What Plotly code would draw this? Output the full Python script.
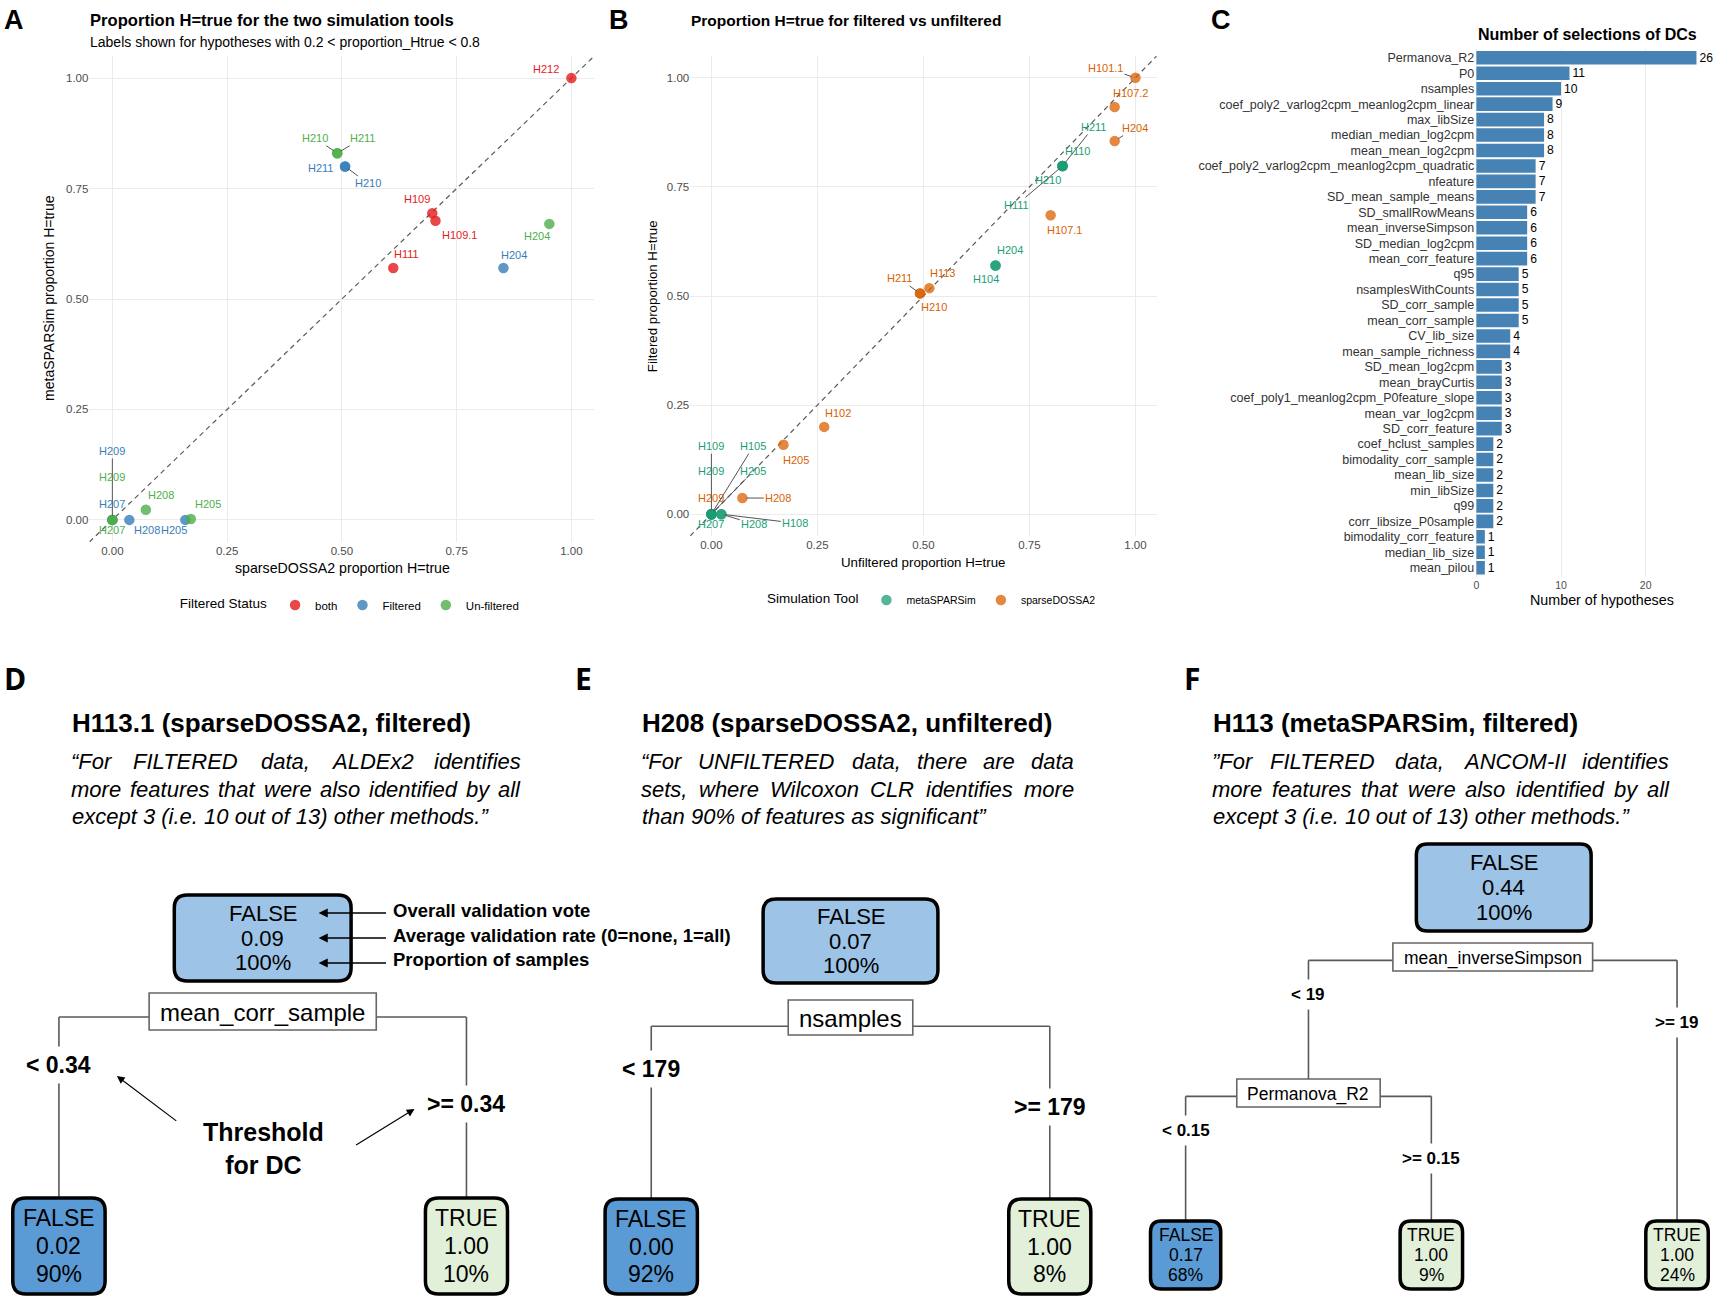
import plotly.graph_objects as go

W, H = 1713, 1297
SANS = "Liberation Sans, Arial, Helvetica, sans-serif"
LETTER = "Open Sans, Lato, sans-serif"

# ---------------- Panel A data ----------------
a_labels = ["H212", "H210", "H211", "H211", "H210", "H109", "H109.1", "H111", "H204", "H204",
            "H209", "H209", "H207", "H207", "H208", "H208", "H205", "H205"]
a_status = ["both", "Un-filtered", "Un-filtered", "Filtered", "Filtered", "both", "both", "both",
            "Filtered", "Un-filtered", "Filtered", "Un-filtered", "Filtered", "Un-filtered",
            "Un-filtered", "Filtered", "Filtered", "Un-filtered"]
a_sparse = [1.00, 0.49, 0.49, 0.507, 0.507, 0.697, 0.704, 0.612, 0.852, 0.952,
            0.0, 0.0, 0.0, 0.0, 0.073, 0.037, 0.159, 0.171]
a_meta = [1.00, 0.83, 0.83, 0.80, 0.80, 0.694, 0.677, 0.570, 0.570, 0.670,
          0.0, 0.0, 0.0, 0.0, 0.023, 0.0, 0.0, 0.002]
status_order = ["both", "Filtered", "Un-filtered"]

# ---------------- Panel B data ----------------
b_labels = ["H101.1", "H107.2", "H204", "H211", "H110", "H210", "H111", "H107.1", "H204", "H104",
            "H211", "H210", "H113", "H102", "H205", "H208", "H209", "H109", "H209", "H207",
            "H105", "H205", "H208", "H108"]
b_tool = ["sparseDOSSA2", "sparseDOSSA2", "sparseDOSSA2", "metaSPARSim", "metaSPARSim", "metaSPARSim",
          "metaSPARSim", "sparseDOSSA2", "metaSPARSim", "metaSPARSim", "sparseDOSSA2", "sparseDOSSA2",
          "sparseDOSSA2", "sparseDOSSA2", "sparseDOSSA2", "sparseDOSSA2", "sparseDOSSA2", "metaSPARSim",
          "metaSPARSim", "metaSPARSim", "metaSPARSim", "metaSPARSim", "metaSPARSim", "metaSPARSim"]
b_unfiltered = [1.00, 0.951, 0.951, 0.828, 0.828, 0.828, 0.828, 0.80, 0.67, 0.67,
                0.492, 0.492, 0.514, 0.266, 0.170, 0.073, 0.0, 0.0, 0.0, 0.0,
                0.0, 0.0, 0.0235, 0.0235]
b_filtered = [1.00, 0.933, 0.855, 0.798, 0.798, 0.798, 0.798, 0.685, 0.57, 0.57,
              0.506, 0.506, 0.518, 0.20, 0.159, 0.037, 0.0, 0.0, 0.0, 0.0,
              0.0, 0.0, 0.0, 0.0]
tool_order = ["metaSPARSim", "sparseDOSSA2"]

# ---------------- Panel C data ----------------
c_features = ["Permanova_R2", "P0", "nsamples", "coef_poly2_varlog2cpm_meanlog2cpm_linear", "max_libSize",
              "median_median_log2cpm", "mean_mean_log2cpm", "coef_poly2_varlog2cpm_meanlog2cpm_quadratic",
              "nfeature", "SD_mean_sample_means", "SD_smallRowMeans", "mean_inverseSimpson",
              "SD_median_log2cpm", "mean_corr_feature", "q95", "nsamplesWithCounts", "SD_corr_sample",
              "mean_corr_sample", "CV_lib_size", "mean_sample_richness", "SD_mean_log2cpm",
              "mean_brayCurtis", "coef_poly1_meanlog2cpm_P0feature_slope", "mean_var_log2cpm",
              "SD_corr_feature", "coef_hclust_samples", "bimodality_corr_sample", "mean_lib_size",
              "min_libSize", "q99", "corr_libsize_P0sample", "bimodality_corr_feature",
              "median_lib_size", "mean_pilou"]
c_counts = [26, 11, 10, 9, 8, 8, 8, 7, 7, 7, 6, 6, 6, 6, 5, 5, 5, 5, 4, 4, 3, 3, 3, 3, 3,
            2, 2, 2, 2, 2, 2, 1, 1, 1]
c_ticks = [0, 10, 20]

# ---------------- Decision trees (D, E, F) ----------------
tree_D = dict(vote="FALSE", rate=0.09, pct=100, var="mean_corr_sample", thr="0.34",
              kids=[dict(vote="FALSE", rate=0.02, pct=90), dict(vote="TRUE", rate=1.00, pct=10)])
tree_E = dict(vote="FALSE", rate=0.07, pct=100, var="nsamples", thr="179",
              kids=[dict(vote="FALSE", rate=0.00, pct=92), dict(vote="TRUE", rate=1.00, pct=8)])
tree_F = dict(vote="FALSE", rate=0.44, pct=100, var="mean_inverseSimpson", thr="19",
              kids=[dict(var="Permanova_R2", thr="0.15",
                         kids=[dict(vote="FALSE", rate=0.17, pct=68), dict(vote="TRUE", rate=1.00, pct=9)]),
                    dict(vote="TRUE", rate=1.00, pct=24)])
titles = {"D": "H113.1 (sparseDOSSA2, filtered)",
          "E": "H208 (sparseDOSSA2, unfiltered)",
          "F": "H113 (metaSPARSim, filtered)"}
quotes = {"D": ["“For FILTERED data, ALDEx2 identifies",
                "more features that were also identified by all",
                "except 3 (i.e. 10 out of 13) other methods.”"],
          "E": ["“For UNFILTERED data, there are data",
                "sets, where Wilcoxon CLR identifies more",
                "than 90% of features as significant”"],
          "F": ["”For FILTERED data, ANCOM-II identifies",
                "more features that were also identified by all",
                "except 3 (i.e. 10 out of 13) other methods.”"]}
legend_notes = ["Overall validation vote", "Average validation rate (0=none, 1=all)", "Proportion of samples"]

# ---------------- styles ----------------
status_colors = {"both": "#E41A1C", "Filtered": "#377EB8", "Un-filtered": "#4DAF4A"}
tool_colors = {"metaSPARSim": "#1B9E77", "sparseDOSSA2": "#D95F02"}
GRID = "#EBEBEB"
TICKC = "#4D4D4D"
ROOT_FILL = "#9DC3E6"
LEAF_FILL = {"FALSE": "#5B9BD5", "TRUE": "#E2F0D9"}

# Arial / Liberation Sans advance widths (1/1000 em), used for text box sizing
AW = {' ': 278, '%': 889, '(': 333, ')': 333, ',': 278, '-': 333, '.': 278, '_': 556, '“': 333, '”': 333,
      '<': 584, '=': 584, '>': 584}
for ch in "0123456789":
    AW[ch] = 556
AW.update(dict(zip("ABCDEFGHIJKLMNOPQRSTUVWXYZ",
                   [667, 667, 722, 722, 667, 611, 778, 722, 278, 500, 667, 556, 833, 722, 778, 667, 778,
                    722, 667, 611, 722, 667, 944, 667, 667, 611])))
AW.update(dict(zip("abcdefghijklmnopqrstuvwxyz",
                   [556, 556, 500, 556, 556, 278, 556, 556, 222, 222, 500, 222, 833, 556, 556, 556, 556,
                    333, 500, 278, 556, 500, 722, 500, 500, 500])))


def tw(text, size):
    return sum(AW.get(c, 556) for c in text) / 1000.0 * size


# label offsets (pixels) for repelled labels: (dx, dy, draw segment)
a_off = {("H212", "both"): (-25, -9, False), ("H210", "Un-filtered"): (-22, -15, True),
         ("H211", "Un-filtered"): (25, -15, True), ("H211", "Filtered"): (-25, 2, False),
         ("H210", "Filtered"): (23, 17, True), ("H109", "both"): (-15, -14, False),
         ("H109.1", "both"): (24, 14, False), ("H111", "both"): (13, -14, False),
         ("H204", "Filtered"): (11, -13, False), ("H204", "Un-filtered"): (-12, 12, False),
         ("H209", "Filtered"): (0, -69, True), ("H209", "Un-filtered"): (0, -43, False),
         ("H207", "Filtered"): (0, -16, False), ("H207", "Un-filtered"): (0, 10, False),
         ("H208", "Un-filtered"): (15, -15, False), ("H208", "Filtered"): (18, 10, False),
         ("H205", "Filtered"): (-11, 10, False), ("H205", "Un-filtered"): (17, -15, False)}
b_off = {("H101.1", "sparseDOSSA2"): (-30, -10, True), ("H107.2", "sparseDOSSA2"): (16, -14, False),
         ("H204", "sparseDOSSA2"): (20, -13, True), ("H211", "metaSPARSim"): (31, -39, True),
         ("H110", "metaSPARSim"): (15, -15, False), ("H210", "metaSPARSim"): (-15, 14, False),
         ("H111", "metaSPARSim"): (-46, 39, True), ("H107.1", "sparseDOSSA2"): (14, 15, False),
         ("H204", "metaSPARSim"): (14, -15, False), ("H104", "metaSPARSim"): (-10, 14, False),
         ("H211", "sparseDOSSA2"): (-21, -15, True), ("H210", "sparseDOSSA2"): (14, 14, False),
         ("H113", "sparseDOSSA2"): (13, -15, False), ("H102", "sparseDOSSA2"): (14, -14, False),
         ("H205", "sparseDOSSA2"): (13, 15, False), ("H208", "sparseDOSSA2"): (36, 0, True),
         ("H209", "sparseDOSSA2"): (0, -16, False), ("H109", "metaSPARSim"): (0, -68, True),
         ("H209", "metaSPARSim"): (0, -43, False), ("H207", "metaSPARSim"): (0, 10, False),
         ("H105", "metaSPARSim"): (42, -68, True), ("H205", "metaSPARSim"): (42, -43, True),
         ("H208", "metaSPARSim"): (33, 10, True), ("H108", "metaSPARSim"): (74, 9, True)}

tree_styles = {
    "D": dict(x0=57, dx=408, root_dx=0, root_top=895, root_w=177, root_h=86, root_font=22, split_h=37,
              split_font=24, split_gap=12, line_frac=0.65, offL=48, offR=87, thr_font=23, level_top={},
              leaf_top=1198, leaf_h=96, leaf_font=23, radius=13, title_x=68, qx0=68, qx1=518),
    "E": dict(x0=650, dx=399, root_dx=0, root_top=899, root_w=175, root_h=84, root_font=22, split_h=35,
              split_font=24, split_gap=17, line_frac=0.75, offL=43, offR=81, thr_font=23, level_top={},
              leaf_top=1199, leaf_h=95, leaf_font=23, radius=13, title_x=639, qx0=639, qx1=1072),
    "F": dict(x0=1185, dx=246, root_dx=11, root_top=844, root_w=175, root_h=87, root_font=22, split_h=28,
              split_font=17.5, split_gap=12, line_frac=0.62, offL=34, offR=62, thr_font=17,
              level_top={1: 1079}, leaf_top=1221, leaf_h=68, leaf_font=17.5, radius=11, title_x=1210,
              qx0=1210, qx1=1668),
}

shapes = []
annots = []


def canvas_text(x, y, text, size, family=SANS, color="black", xanchor="center", **kw):
    annots.append(dict(x=x, y=y, xref="x4", yref="y4", text=text, showarrow=False, xanchor=xanchor,
                       yanchor="middle", font=dict(family=family, size=size, color=color), **kw))


def rbox(x0, y0, x1, y1, r, fill, lw=3.5, color="black"):
    p = (f"M {x0+r},{y0} L {x1-r},{y0} Q {x1},{y0} {x1},{y0+r} L {x1},{y1-r} Q {x1},{y1} {x1-r},{y1} "
         f"L {x0+r},{y1} Q {x0},{y1} {x0},{y1-r} L {x0},{y0+r} Q {x0},{y0} {x0+r},{y0} Z")
    shapes.append(dict(type="path", path=p, xref="x4", yref="y4", fillcolor=fill,
                       line=dict(color=color, width=lw), layer="above"))


def seg(x0, y0, x1, y1, color="#595959", width=1.6):
    shapes.append(dict(type="line", x0=x0, y0=y0, x1=x1, y1=y1, xref="x4", yref="y4",
                       line=dict(color=color, width=width), layer="above"))


def assign(node, counter, depth):
    node["depth"] = depth
    if "kids" in node:
        for k in node["kids"]:
            assign(k, counter, depth + 1)
        node["ix"] = (node["kids"][0]["ix"] + node["kids"][-1]["ix"]) / 2
    else:
        node["ix"] = counter[0]
        counter[0] += 1


def node_box(cx, top, w, h, node, font, fill, r):
    rbox(cx - w / 2, top, cx + w / 2, top + h, r, fill)
    ys = []
    for frac, t in zip((0.21, 0.5, 0.79), (node["vote"], f"{node['rate']:.2f}", f"{node['pct']}%")):
        canvas_text(cx, top + frac * h, t, font)
        ys.append(top + frac * h)
    return ys


def draw_tree(tree, st):
    assign(tree, [0], 0)

    def X(n):
        return st["x0"] + n["ix"] * st["dx"]

    def draw_split(node, top):
        cx = X(node)
        sw = tw(node["var"], st["split_font"]) + 22
        sh = st["split_h"]
        line_y = top + st["line_frac"] * sh
        for k, op, off in zip(node["kids"], ("&lt; ", "&gt;= "), (st["offL"], st["offR"])):
            kx = X(k)
            leaf = "kids" not in k
            ktop = st["leaf_top"] if leaf else st["level_top"][k["depth"]]
            seg(cx, line_y, kx, line_y)
            seg(kx, line_y, kx, ktop)
            canvas_text(kx, line_y + off, f"<b>{op}{node['thr']}</b>", st["thr_font"],
                        bgcolor="white", borderpad=5)
            if leaf:
                lw_ = max(tw(t, st["leaf_font"]) for t in (k["vote"], f"{k['rate']:.2f}", f"{k['pct']}%"))
                lw_ += st["leaf_font"] * 0.85
                node_box(kx, ktop, lw_, st["leaf_h"], k, st["leaf_font"], LEAF_FILL[k["vote"]], st["radius"])
            else:
                draw_split(k, ktop)
        shapes.append(dict(type="rect", x0=cx - sw / 2, x1=cx + sw / 2, y0=top, y1=top + sh, xref="x4",
                           yref="y4", fillcolor="white", line=dict(color="#666666", width=1.6), layer="above"))
        canvas_text(cx, top + sh / 2 + 1, node["var"], st["split_font"])

    cx = X(tree) + st["root_dx"]
    ys = node_box(cx, st["root_top"], st["root_w"], st["root_h"], tree, st["root_font"], ROOT_FILL, st["radius"])
    draw_split(tree, st["root_top"] + st["root_h"] + st["split_gap"])
    return cx, ys


def justified(lines, x0, x1, ys, size):
    for i, (line, y) in enumerate(zip(lines, ys)):
        words = line.split(" ")
        if i == len(lines) - 1:
            canvas_text(x0, y, f"<i>{line}</i>", size, xanchor="left")
            continue
        widths = [tw(w_, size) for w_ in words]
        gap = (x1 - x0 - sum(widths)) / (len(words) - 1)
        x = x0
        for w_, wd in zip(words, widths):
            canvas_text(x - 1, y, f"<i>{w_}</i>", size, xanchor="left")
            x += wd + gap


fig = go.Figure()

# ---- Panel A ----
lim = [-0.05, 1.05]
fig.add_trace(go.Scatter(x=lim, y=lim, mode="lines", line=dict(color="#595959", dash="5px,4px", width=1.2),
                         showlegend=False, hoverinfo="skip", xaxis="x", yaxis="y"))
for s in status_order:
    idx = [i for i, v in enumerate(a_status) if v == s]
    fig.add_trace(go.Scatter(x=[a_sparse[i] for i in idx], y=[a_meta[i] for i in idx], mode="markers", name=s,
                             marker=dict(color=status_colors[s], size=10.5, opacity=0.8, line=dict(width=0)),
                             legend="legend", xaxis="x", yaxis="y"))
for i, lab in enumerate(a_labels):
    dx, dy, sg = a_off[(lab, a_status[i])]
    annots.append(dict(x=a_sparse[i], y=a_meta[i], xref="x", yref="y", text=lab, showarrow=True, ax=dx, ay=dy,
                       arrowhead=0, arrowwidth=1, arrowcolor="#555555" if sg else "rgba(0,0,0,0)", standoff=4,
                       font=dict(family=SANS, size=11, color=status_colors[a_status[i]])))

# ---- Panel B ----
fig.add_trace(go.Scatter(x=lim, y=lim, mode="lines", line=dict(color="#595959", dash="5px,4px", width=1.2),
                         showlegend=False, hoverinfo="skip", xaxis="x2", yaxis="y2"))
for rank, t in reversed(list(enumerate(tool_order))):
    idx = [i for i, v in enumerate(b_tool) if v == t]
    fig.add_trace(go.Scatter(x=[b_unfiltered[i] for i in idx], y=[b_filtered[i] for i in idx], mode="markers",
                             name=t, legendrank=rank + 1,
                             marker=dict(color=tool_colors[t], size=10.5, opacity=0.75, line=dict(width=0)),
                             legend="legend2", xaxis="x2", yaxis="y2"))
for i, lab in enumerate(b_labels):
    dx, dy, sg = b_off[(lab, b_tool[i])]
    annots.append(dict(x=b_unfiltered[i], y=b_filtered[i], xref="x2", yref="y2", text=lab, showarrow=True,
                       ax=dx, ay=dy, arrowhead=0, arrowwidth=1,
                       arrowcolor="#555555" if sg else "rgba(0,0,0,0)", standoff=4,
                       font=dict(family=SANS, size=11, color=tool_colors[b_tool[i]])))

# ---- Panel C ----
fig.add_trace(go.Bar(x=c_counts, y=c_features, orientation="h", marker=dict(color="#4682B4", line=dict(width=0)),
                     width=0.88, text=c_counts, textposition="outside", cliponaxis=False,
                     textfont=dict(family=SANS, size=12.5, color="black"), showlegend=False,
                     xaxis="x3", yaxis="y3"))

# canvas axis for trees / free text
fig.add_trace(go.Scatter(x=[], y=[], xaxis="x4", yaxis="y4", showlegend=False))

# ---- panel letters and titles ----
for letter, x in (("A", 0), ("B", 606), ("C", 1208)):
    canvas_text(x, 20, f"<b>{letter}</b>", 27, xanchor="left")
canvas_text(86, 20, "<b>Proportion H=true for the two simulation tools</b>", 16.6, xanchor="left")
canvas_text(86, 42, "Labels shown for hypotheses with 0.2 &lt; proportion_Htrue &lt; 0.8", 14, xanchor="left")
canvas_text(688, 20, "<b>Proportion H=true for filtered vs unfiltered</b>", 15.5, xanchor="left")
canvas_text(1476, 34, "<b>Number of selections of DCs</b>", 16, xanchor="left")
canvas_text(341, 568, "sparseDOSSA2 proportion H=true", 14.2)
canvas_text(47, 298, "metaSPARSim proportion H=true", 14, textangle=-90)
canvas_text(922, 562, "Unfiltered proportion H=true", 13.3)
canvas_text(651, 296, "Filtered proportion H=true", 13.3, textangle=-90)
canvas_text(1602, 600, "Number of hypotheses", 14.3)

for letter, x in (("D", 0), ("E", 572), ("F", 1181)):
    canvas_text(x, 678, f"<b>{letter}</b>", 30, family=LETTER, xanchor="left")

for key, tree in (("D", tree_D), ("E", tree_E), ("F", tree_F)):
    st = tree_styles[key]
    canvas_text(st["title_x"], 723, f"<b>{titles[key]}</b>", 26, xanchor="left")
    justified(quotes[key], st["qx0"], st["qx1"], (761, 789, 816), 22)
    cx, ys = draw_tree(tree, st)
    if key == "D":
        tip_x = 317
        for note, y in zip(legend_notes, ys):
            annots.append(dict(x=tip_x, y=y, ax=386, ay=y, xref="x4", yref="y4", axref="x4", ayref="y4",
                               text="", showarrow=True, arrowhead=2, arrowsize=1.3, arrowwidth=1.4,
                               arrowcolor="black"))
            canvas_text(389, y - 3, f"<b>{note}</b>", 18.5, xanchor="left")
        canvas_text(262, 1148, "<b>Threshold<br>for DC</b>", 25)
        annots.append(dict(x=115, y=1076, ax=176, ay=1122, xref="x4", yref="y4", axref="x4", ayref="y4",
                           text="", showarrow=True, arrowhead=2, arrowsize=1.3, arrowwidth=1.2, arrowcolor="black"))
        annots.append(dict(x=413, y=1109, ax=353, ay=1146, xref="x4", yref="y4", axref="x4", ayref="y4",
                           text="", showarrow=True, arrowhead=2, arrowsize=1.3, arrowwidth=1.2, arrowcolor="black"))

# ---- layout ----
def dom(a, b, total):
    return [a / total, b / total]


tick_font = dict(family=SANS, size=11.5, color=TICKC)
sc_axis = dict(range=lim, tickvals=[0, 0.25, 0.5, 0.75, 1.0], ticktext=["0.00", "0.25", "0.50", "0.75", "1.00"],
               showgrid=True, gridcolor=GRID, gridwidth=1.3, zeroline=False, showline=False, ticks="",
               tickfont=tick_font, fixedrange=True)

fig.update_layout(
    width=W, height=H, margin=dict(l=0, r=0, t=0, b=0), paper_bgcolor="white", plot_bgcolor="rgba(0,0,0,0)",
    font=dict(family=SANS, color="black"),
    xaxis=dict(domain=dom(87.5, 593, W), anchor="y", **sc_axis),
    yaxis=dict(domain=[1 - 542 / H, 1 - 56 / H], anchor="x", **sc_axis),
    xaxis2=dict(domain=dom(689, 1156, W), anchor="y2", **sc_axis),
    yaxis2=dict(domain=[1 - 536 / H, 1 - 56 / H], anchor="x2", **sc_axis),
    xaxis3=dict(domain=dom(1475, 1710, W), anchor="y3", range=[-0.13, 27.6], tickvals=c_ticks,
                showgrid=True, gridcolor=GRID, gridwidth=1.3, zeroline=False, showline=False, ticks="",
                tickfont=dict(family=SANS, size=10.5, color=TICKC), fixedrange=True),
    yaxis3=dict(domain=[1 - 577 / H, 1 - 48.5 / H], anchor="x3", type="category",
                categoryorder="array", categoryarray=c_features, range=[len(c_features) - 0.4, -0.6],
                showgrid=False, zeroline=False, showline=False, ticks="",
                tickfont=dict(family=SANS, size=12.5, color="#333333"), fixedrange=True),
    xaxis4=dict(domain=[0, 1], range=[0, W], visible=False, fixedrange=True, anchor="y4"),
    yaxis4=dict(domain=[0, 1], range=[H, 0], visible=False, fixedrange=True, anchor="x4"),
    legend=dict(orientation="h", x=176 / W, xanchor="left", y=1 - 605 / H, yanchor="middle",
                title=dict(text="Filtered Status", font=dict(family=SANS, size=13.5), side="left"),
                font=dict(family=SANS, size=11.5), bgcolor="rgba(0,0,0,0)", itemwidth=30),
    legend2=dict(orientation="h", x=764 / W, xanchor="left", y=1 - 600 / H, yanchor="middle",
                 title=dict(text="Simulation Tool", font=dict(family=SANS, size=13.5), side="left"),
                 font=dict(family=SANS, size=10.5), bgcolor="rgba(0,0,0,0)", itemwidth=30),
    shapes=shapes, annotations=annots, showlegend=True,
)

fig.write_html("out.html", config={"displayModeBar": False},
               post_script="document.body.style.margin='0';")
